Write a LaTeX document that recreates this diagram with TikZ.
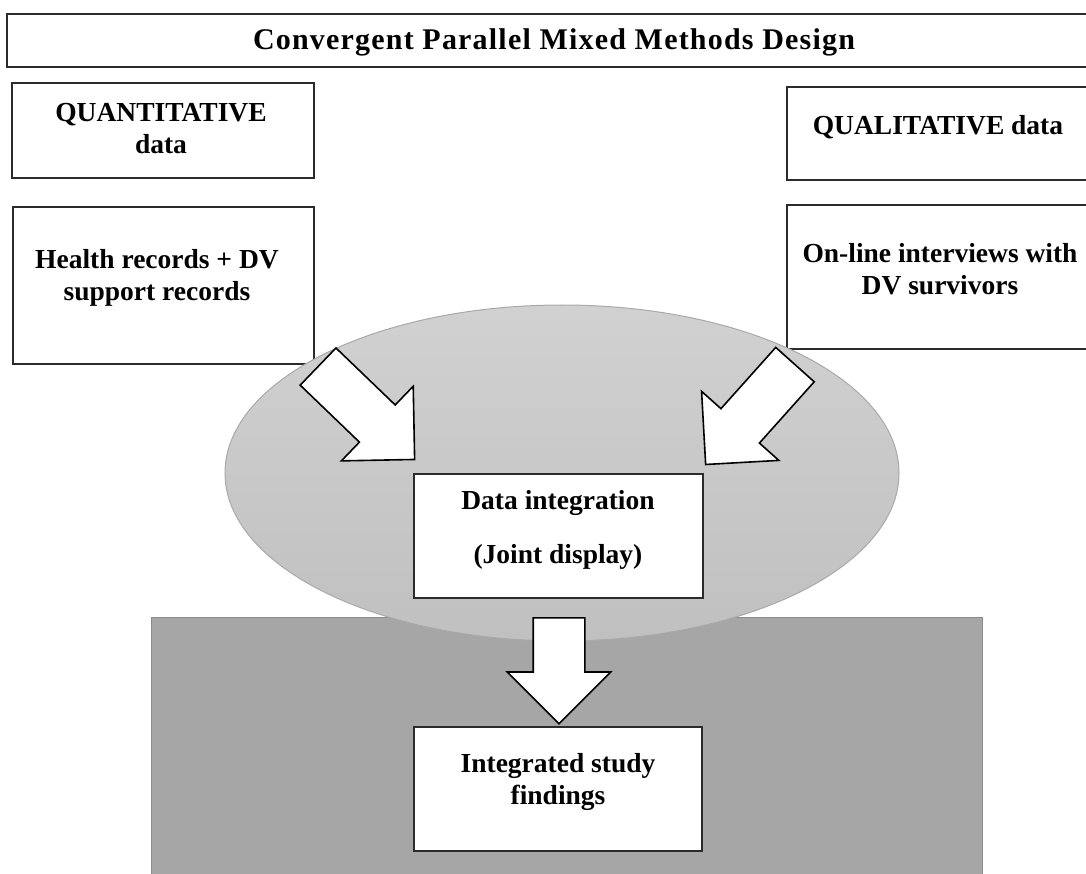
\documentclass[tikz,border=0pt]{standalone}
\usepackage{fontspec}
\setmainfont{Liberation Serif}
\usepackage{xcolor}
\usepackage{tikz}
\usetikzlibrary{shapes,positioning,calc}

\definecolor{panelgray}{HTML}{A6A6A6}
\definecolor{panelline}{HTML}{8C8C8C}
\definecolor{ovaltop}{HTML}{D1D1D1}
\definecolor{ovalbot}{HTML}{C0C0C0}
\definecolor{ovalline}{HTML}{A9A9A9}
\definecolor{boxline}{HTML}{2B2B2B}

\tikzset{
  box/.style={draw=boxline, line width=1.6pt, fill=white, rectangle, inner sep=0pt},
  txt/.style={font=\fontsize{27.5}{32}\selectfont\bfseries, align=center, inner sep=0pt},
  fatarrow/.style={single arrow, draw=black, line width=1.6pt, fill=white, inner xsep=0pt, inner ysep=25pt,
    single arrow head extend=26pt, minimum width=102pt, minimum height=134pt, anchor=tail}
}

\begin{document}
\begin{tikzpicture}[x=1pt,y=-1pt]
    \useasboundingbox (0,0) rectangle (1086,874);
    \clip (0,0) rectangle (1086,874);

    % Header and data boxes
    \node[box, minimum width=1094pt, minimum height=53pt] (title) at (554,40.5) {};
    \node[txt, font=\fontsize{30}{32}\selectfont\bfseries\addfontfeature{LetterSpace=4}] (titletxt) at (554,42) {Convergent Parallel Mixed Methods Design};
    \node[box, minimum width=302pt, minimum height=95pt] (quant) at (163,130.5) {};
    \node[txt] (quanttxt) at (161,128.5) {QUANTITATIVE\\data};
    \node[box, minimum width=314pt, minimum height=93pt] (qual) at (944,133.5) {};
    \node[txt] (qualtxt) at (938,127) {QUALITATIVE data};
    \node[box, minimum width=301pt, minimum height=157pt] (health) at (163.5,285.5) {};
    \node[txt] (healthtxt) at (157,278) {Health records + DV\\support records};
    \node[box, minimum width=314pt, minimum height=144pt] (online) at (944,277) {};
    \node[txt] (onlinetxt) at (940,269) {On-line interviews with\\DV survivors};

    % Background panel and oval
    \node[rectangle, fill=panelgray, draw=panelline, line width=1pt, minimum width=831pt, minimum height=283pt] (panel) at (566.5,758.5) {};
    \node[ellipse, top color=ovaltop, bottom color=ovalbot, draw=ovalline, line width=1pt, minimum width=674pt, minimum height=336pt] (oval) at (562,473) {};

    % Block arrows
    \node[fatarrow, minimum width=101pt, minimum height=106pt, rotate=-90] (arrowD) at (559,617) {};
    \node[fatarrow, rotate=-43.9] (arrowL) at (317.5,366) {};
    \node[fatarrow, rotate=-131.8] (arrowR) at (795.5,364) {};

    % Integration and findings
    \node[box, minimum width=289pt, minimum height=124pt] (integ) at (558.5,536) {};
    \node[txt] (integtxt) at (558,530) {Data integration\\[22pt](Joint display)};
    \node[box, minimum width=288pt, minimum height=124pt] (findings) at (558,789) {};
    \node[txt] (findingstxt) at (558,782) {Integrated study\\findings};
\end{tikzpicture}
\end{document}
